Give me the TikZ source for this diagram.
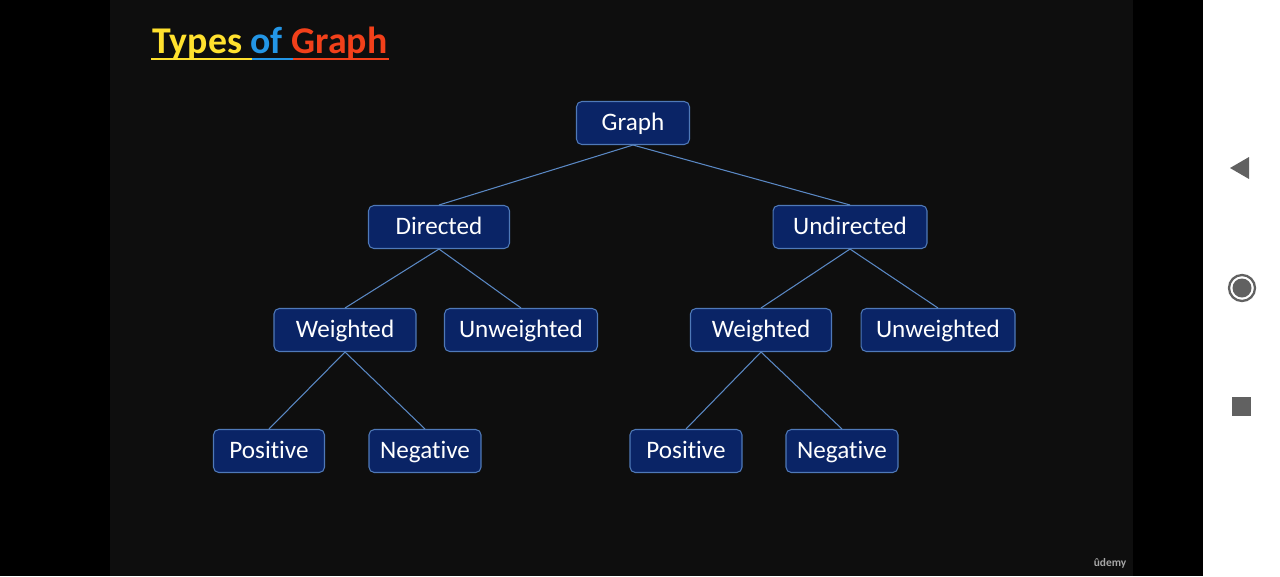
\documentclass[tikz,border=0pt]{standalone}
\usepackage{fontspec}
\setmainfont[Ligatures=NoCommon]{Carlito}

\definecolor{slidebg}{HTML}{0E0E0E}
\definecolor{boxfill}{HTML}{0A2466}
\definecolor{boxline}{HTML}{4F79B8}
\definecolor{linkcol}{HTML}{5A88C4}
\definecolor{ttyellow}{HTML}{FFE12E}
\definecolor{ttblue}{HTML}{2396E6}
\definecolor{ttred}{HTML}{F2401A}
\definecolor{navgray}{HTML}{616161}

\tikzset{
  box/.style={draw=boxline, line width=0.6pt, fill=boxfill, rounded corners=3pt,
              text=white, minimum height=0.86cm, inner sep=0pt,
              text height=10pt, text depth=1pt,
              font=\fontsize{14.3}{16}\selectfont},
  link/.style={draw=linkcol, line width=0.6pt},
}

\begin{document}
\begin{tikzpicture}[x=0.02cm, y=-0.02cm]

    % screen and slide
    \fill[black] (0,0) rectangle (1280,576);
    \fill[slidebg] (110,0) rectangle (1133,576);
    \fill[white] (1203,0) rectangle (1280,576);

    % title
    \node[anchor=base west, inner sep=0pt, font=\fontsize{21.5}{24}\selectfont\bfseries] (title) at (152,53)
        {\textcolor{ttyellow}{Types} \textcolor{ttblue}{of} \textcolor{ttred}{Graph}};
    \draw[ttyellow, line width=1.2pt] (151,59) -- (252,59);
    \draw[ttblue, line width=1.2pt] (252,59) -- (293,59);
    \draw[ttred, line width=1.2pt] (293,59) -- (389,59);

    % tree
    \node[box, minimum width=2.26cm] (graph) at (633,123) {Graph};

    \node[box, minimum width=2.82cm] (directed) at (439,227) {Directed};
    \node[box, minimum width=3.08cm] (undirected) at (850,227) {Undirected};

    \node[box, minimum width=2.84cm] (dweighted) at (345,330) {Weighted};
    \node[box, minimum width=3.06cm] (dunweighted) at (521,330) {Unweighted};
    \node[box, minimum width=2.82cm] (uweighted) at (761,330) {Weighted};
    \node[box, minimum width=3.08cm] (uunweighted) at (938,330) {Unweighted};

    \node[box, minimum width=2.22cm] (dpositive) at (269,451) {Positive};
    \node[box, minimum width=2.24cm] (dnegative) at (425,451) {Negative};
    \node[box, minimum width=2.24cm] (upositive) at (686,451) {Positive};
    \node[box, minimum width=2.24cm] (unegative) at (842,451) {Negative};

    \draw[link] (graph.south) -- (directed.north);
    \draw[link] (graph.south) -- (undirected.north);
    \draw[link] (directed.south) -- (dweighted.north);
    \draw[link] (directed.south) -- (dunweighted.north);
    \draw[link] (undirected.south) -- (uweighted.north);
    \draw[link] (undirected.south) -- (uunweighted.north);
    \draw[link] (dweighted.south) -- (dpositive.north);
    \draw[link] (dweighted.south) -- (dnegative.north);
    \draw[link] (uweighted.south) -- (upositive.north);
    \draw[link] (uweighted.south) -- (unegative.north);

    % watermark
    \node[text=gray!70, font=\fontsize{6.5}{8}\selectfont\bfseries] (udemy) at (1110,563) {ûdemy};

    % navigation bar
    \fill[navgray] (1230,168) -- (1249,157) -- (1249,179) -- cycle;
    \draw[navgray, line width=1.3pt] (1242,288) circle (13);
    \fill[navgray] (1242,288) circle (9.5);
    \fill[navgray] (1232,397) rectangle (1251,416);

\end{tikzpicture}
\end{document}
